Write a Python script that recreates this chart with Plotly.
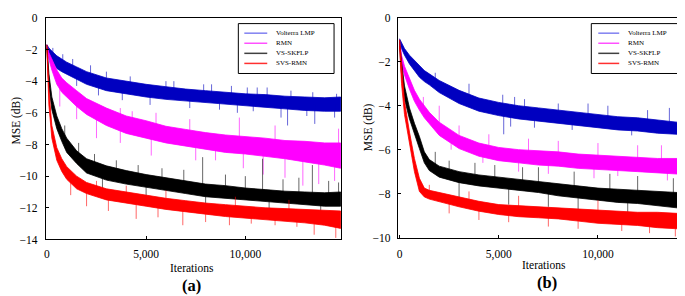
import numpy as np
import plotly.graph_objects as go

W, H = 685, 296
SERIES = ["Volterra LMP", "RMN", "VS-SKFLP", "SVS-RMN"]
COLORS = ["#0000c0", "#ff00ff", "#000000", "#ff0000"]
LEGEND_COLORS = ["#8080f0", "#ff50ff", "#404040", "#ff3030"]

X_TICKS = [0, 5000, 10000]
Y_TICKS_A = [0, -2, -4, -6, -8, -10, -12, -14]
Y_TICKS_B = [0, -2, -4, -6, -8, -10]

# ---------------- panel (a) : band envelopes -------------
ITS_A = [0, 100, 250, 500, 750, 1000, 1500, 2000, 3000, 4000, 5000, 6000, 7000,
         8000, 9000, 10000, 11000, 12000, 13000, 14000, 14800]
A_BLUE_UP = [-1.7, -1.9, -2.1, -2.4, -2.6, -2.8, -3.1, -3.4, -3.8, -4.0, -4.2, -4.35, -4.5,
             -4.6, -4.7, -4.8, -4.85, -4.95, -5.0, -5.05, -5.0]
A_BLUE_LO = [-1.9, -2.3, -2.7, -3.2, -3.4, -3.6, -3.9, -4.2, -4.6, -4.8, -5.0, -5.15, -5.25,
             -5.35, -5.45, -5.55, -5.65, -5.75, -5.85, -5.9, -5.9]
A_MAG_UP = [-1.7, -2.2, -2.6, -3.3, -3.8, -4.1, -4.6, -5.1, -5.7, -6.2, -6.5, -6.85, -7.05,
            -7.25, -7.4, -7.5, -7.6, -7.75, -7.8, -7.9, -7.9]
A_MAG_LO = [-1.9, -2.6, -3.3, -4.2, -4.7, -5.0, -5.6, -6.1, -6.8, -7.3, -7.6, -7.9, -8.1,
            -8.3, -8.5, -8.6, -8.75, -8.9, -9.1, -9.3, -9.5]
A_BLK_UP = [-1.7, -3.5, -5.0, -6.2, -7.0, -7.6, -8.4, -8.9, -9.35, -9.65, -9.9, -10.1, -10.3,
            -10.5, -10.6, -10.75, -10.85, -10.95, -11.0, -11.05, -11.0]
A_BLK_LO = [-1.9, -4.3, -5.8, -7.0, -7.8, -8.5, -9.2, -9.8, -10.25, -10.5, -10.7, -10.9, -11.1,
            -11.3, -11.4, -11.5, -11.6, -11.7, -11.8, -11.9, -11.9]
A_RED_UP = [-1.7, -4.5, -6.8, -8.2, -8.9, -9.4, -10.0, -10.4, -10.8, -11.0, -11.2, -11.4, -11.55,
            -11.7, -11.8, -11.9, -12.0, -12.05, -12.1, -12.15, -12.2]
A_RED_LO = [-1.9, -5.5, -7.6, -9.0, -9.7, -10.2, -10.8, -11.1, -11.5, -11.7, -11.9, -12.1, -12.25,
            -12.4, -12.55, -12.65, -12.75, -12.85, -12.95, -13.1, -13.3]

# spikes: iteration and tip value
A_BLUE_SPK_X = [300, 800, 1300, 2200, 3000, 4200, 6000, 6400, 7900, 8300, 9300, 10100, 10600,
                11100, 12300, 13400, 14600,
                1500, 2600, 3800, 5200, 7200, 8700, 9600, 10400, 11800, 12130, 13100, 13500, 14500]
A_BLUE_SPK_Y = [-1.9, -2.3, -2.6, -3.0, -3.4, -3.7, -4.0, -4.0, -4.2, -4.2, -4.3, -4.4, -4.4,
                -4.4, -4.6, -4.7, -4.8,
                -4.3, -4.9, -5.2, -5.5, -5.7, -5.8, -6.0, -5.9, -6.3, -6.8, -6.2, -6.7, -6.3]
A_MAG_SPK_X = [650, 1500, 2500, 3700, 5260, 7500, 8500, 9900, 10900, 12000, 12900, 13700, 14500,
               3700, 4300, 5500, 7200, 9700, 11500, 14700]
A_MAG_SPK_Y = [-5.6, -6.4, -7.6, -7.9, -8.7, -9.0, -9.0, -9.5, -9.9, -10.1, -10.6, -10.5, -10.3,
               -5.7, -5.9, -6.0, -6.4, -6.3, -6.8, -7.0]
A_BLK_SPK_X = [900, 1600, 2400, 3500, 4600, 5800, 6900, 7850, 9000, 10000, 10870, 11900, 12700,
               13380, 14200, 14700,
               2800, 5000, 8000, 11200, 13800]
A_BLK_SPK_Y = [-6.8, -7.9, -8.6, -9.0, -9.3, -9.5, -9.6, -8.8, -9.9, -10.0, -8.9, -10.2, -10.1,
               -9.3, -10.3, -10.4,
               -11.2, -11.6, -12.0, -12.2, -12.5]
A_RED_SPK_X = [1200, 2000, 3100, 4500, 5600, 6850, 8000, 9200, 10300, 11500, 12600, 13470, 14560,
               2500, 4000, 6000, 9500, 12200]
A_RED_SPK_Y = [-11.2, -11.9, -12.2, -12.7, -12.6, -13.1, -12.9, -13.1, -13.0, -13.1, -13.2, -13.7,
               -13.9,
               -10.3, -10.6, -10.9, -11.3, -11.5]

# ---------------- panel (b) -----------------------------------------------------
ITS_B = [0, 100, 250, 500, 750, 1000, 1250, 1500, 2000, 3000, 4000, 5000, 6000, 7000, 8000,
         9000, 10000, 11000, 12000, 13000, 14000, 14750]
B_BLUE_UP = [-0.95, -1.15, -1.4, -1.7, -1.95, -2.2, -2.4, -2.55, -2.85, -3.3, -3.65, -3.85, -4.0,
             -4.1, -4.2, -4.3, -4.4, -4.5, -4.55, -4.65, -4.75, -4.75]
B_BLUE_LO = [-1.1, -1.4, -1.7, -2.1, -2.4, -2.7, -2.9, -3.05, -3.4, -3.9, -4.25, -4.45, -4.6,
             -4.7, -4.8, -4.9, -5.0, -5.1, -5.15, -5.25, -5.3, -5.35]
B_MAG_UP = [-1.0, -1.7, -2.2, -2.75, -3.3, -3.7, -4.0, -4.3, -4.75, -5.35, -5.7, -5.9, -6.0,
            -6.05, -6.1, -6.2, -6.25, -6.3, -6.35, -6.4, -6.4, -6.45]
B_MAG_LO = [-1.2, -2.1, -2.6, -3.25, -3.8, -4.2, -4.55, -4.85, -5.35, -5.95, -6.3, -6.5, -6.6,
            -6.7, -6.75, -6.85, -6.9, -6.95, -7.0, -7.05, -7.1, -7.15]
B_BLK_UP = [-1.0, -2.0, -3.1, -4.1, -4.8, -5.4, -6.1, -6.45, -6.75, -7.0, -7.15, -7.25, -7.35,
            -7.45, -7.55, -7.65, -7.75, -7.8, -7.85, -7.9, -7.95, -7.9]
B_BLK_LO = [-1.3, -2.6, -3.7, -4.6, -5.3, -5.95, -6.6, -6.95, -7.25, -7.5, -7.65, -7.75, -7.85,
            -7.95, -8.1, -8.2, -8.3, -8.4, -8.45, -8.55, -8.65, -8.7]
B_RED_UP = [-1.0, -2.3, -3.8, -5.2, -6.4, -7.3, -7.75, -7.85, -7.95, -8.15, -8.35, -8.5, -8.55,
            -8.6, -8.65, -8.7, -8.75, -8.8, -8.85, -8.85, -8.9, -8.9]
B_RED_LO = [-1.3, -3.0, -4.4, -5.7, -7.0, -7.9, -8.15, -8.25, -8.35, -8.6, -8.8, -8.95, -9.05,
            -9.1, -9.15, -9.25, -9.35, -9.4, -9.45, -9.55, -9.6, -9.7]

B_BLUE_SPK_X = [1800, 3500, 5200, 5800, 6300, 8000, 9500, 10500, 12500, 13600, 14500,
                5250, 5600, 6800, 8700, 11700, 14200, 14600]
B_BLUE_SPK_Y = [-2.5, -3.0, -3.5, -3.6, -3.7, -3.9, -3.9, -4.0, -4.2, -4.1, -4.2,
                -5.3, -4.95, -5.0, -5.1, -5.35, -5.4, -5.45]
B_MAG_SPK_X = [1200, 2000, 3000, 4500, 6500, 8000, 10000, 12000, 13200, 14600,
               2600, 4200, 6000, 7500, 9800, 11000, 13500, 14500]
B_MAG_SPK_Y = [-3.6, -4.0, -4.9, -5.3, -5.5, -5.6, -5.7, -5.8, -5.8, -5.7,
               -6.0, -6.6, -7.0, -7.1, -7.3, -7.2, -7.4, -7.5]
B_BLK_SPK_X = [1800, 2500, 3800, 4800, 6200, 7000, 8800, 10600, 12000, 13800, 14700,
               3000, 5500, 7500, 9000, 11500]
B_BLK_SPK_Y = [-6.1, -6.5, -6.6, -6.7, -6.8, -6.8, -7.0, -7.1, -7.2, -7.3, -7.5,
               -8.3, -8.5, -8.6, -8.8, -8.9]
B_RED_SPK_X = [2500, 4000, 5500, 7500, 9000, 11200, 12600, 13900, 14400,
               1500, 3500, 6000, 10000]
B_RED_SPK_Y = [-8.9, -9.2, -9.3, -9.5, -9.6, -9.7, -9.8, -9.95, -9.8,
               -7.6, -7.9, -8.1, -8.3]

PANELS = [
    dict(its=ITS_A, xa="x", ya="y",
         bands=[(A_BLUE_UP, A_BLUE_LO), (A_MAG_UP, A_MAG_LO), (A_BLK_UP, A_BLK_LO), (A_RED_UP, A_RED_LO)],
         spikes=[(A_BLUE_SPK_X, A_BLUE_SPK_Y), (A_MAG_SPK_X, A_MAG_SPK_Y),
                 (A_BLK_SPK_X, A_BLK_SPK_Y), (A_RED_SPK_X, A_RED_SPK_Y)]),
    dict(its=ITS_B, xa="x2", ya="y2",
         bands=[(B_BLUE_UP, B_BLUE_LO), (B_MAG_UP, B_MAG_LO), (B_BLK_UP, B_BLK_LO), (B_RED_UP, B_RED_LO)],
         spikes=[(B_BLUE_SPK_X, B_BLUE_SPK_Y), (B_MAG_SPK_X, B_MAG_SPK_Y),
                 (B_BLK_SPK_X, B_BLK_SPK_Y), (B_RED_SPK_X, B_RED_SPK_Y)]),
]

fig = go.Figure()
for p in PANELS:
    its = p["its"]
    for name, col, (up, lo), (sx, sy) in zip(SERIES, COLORS, p["bands"], p["spikes"]):
        fig.add_trace(go.Scatter(
            x=list(its) + list(its)[::-1], y=list(up) + list(lo)[::-1],
            fill="toself", fillcolor=col, mode="lines", line=dict(color=col, width=0.8),
            xaxis=p["xa"], yaxis=p["ya"], showlegend=False, hoverinfo="skip", name=name))
        centre = (np.array(up) + np.array(lo)) / 2
        base = np.interp(sx, its, centre)
        xs, ys = [], []
        for xi, bi, ti in zip(sx, base, sy):
            xs += [xi, xi, None]
            ys += [bi, ti, None]
        fig.add_trace(go.Scatter(
            x=xs, y=ys, mode="lines", line=dict(color=col, width=0.8), opacity=0.75,
            xaxis=p["xa"], yaxis=p["ya"], showlegend=False, hoverinfo="skip", name=name))


def px(x):
    return x / W


def py(y):
    return 1 - y / H


FONT = "Liberation Serif, Times New Roman, serif"
axis_common = dict(showline=True, linecolor="black", linewidth=1, mirror=True,
                   ticks="inside", ticklen=3, tickcolor="black", showgrid=False, zeroline=False,
                   ticklabeloverflow="allow",
                   tickfont=dict(family=FONT, size=11.5, color="black"))

fig.update_layout(
    width=W, height=H, margin=dict(l=0, r=0, t=0, b=0),
    paper_bgcolor="white", plot_bgcolor="white", showlegend=False,
    xaxis=dict(domain=[px(36), px(332)], range=[-50, 14824], tickvals=X_TICKS, tickformat=",d",
               anchor="y", ticklabelstandoff=4, **axis_common),
    yaxis=dict(domain=[py(235), py(4)], range=[-14, 0], tickvals=Y_TICKS_A, anchor="x",
               ticklabelstandoff=5, **axis_common),
    xaxis2=dict(domain=[px(389), px(684)], range=[-85, 14740], tickvals=X_TICKS, tickformat=",d",
                anchor="y2", ticklabelstandoff=6, **axis_common),
    yaxis2=dict(domain=[py(233), py(4)], range=[-10, 0], tickvals=Y_TICKS_B, anchor="x2",
                ticklabelstandoff=4, **axis_common),
)

annotations = []
shapes = []
# axis titles and captions
for cx, cy, txt in [(183, 265, "Iterations"), (536, 262, "Iterations")]:
    annotations.append(dict(x=px(cx), y=py(cy), xref="paper", yref="paper", text=txt, showarrow=False,
                            xanchor="center", yanchor="middle", font=dict(family=FONT, size=11.5, color="black")))
for cx, cy in [(7, 111), (359, 118)]:
    annotations.append(dict(x=px(cx), y=py(cy), xref="paper", yref="paper", text="MSE (dB)", showarrow=False,
                            textangle=-90, xanchor="center", yanchor="middle",
                            font=dict(family=FONT, size=11.5, color="black")))
for cx, cy, txt in [(182, 283, "<b>(a)</b>"), (539, 280, "<b>(b)</b>")]:
    annotations.append(dict(x=px(cx), y=py(cy), xref="paper", yref="paper", text=txt, showarrow=False,
                            xanchor="center", yanchor="middle", font=dict(family=FONT, size=16.5, color="black")))

# legends (one per panel)
LEG_ROWS = [20, 30.5, 41, 51.5]
for (bx0, bx1, lx0, lx1, tx) in [(229, 325, 235, 258, 265), (583, 678, 590, 611, 618)]:
    shapes.append(dict(type="rect", xref="paper", yref="paper", x0=px(bx0), x1=px(bx1), y0=py(62), y1=py(10),
                       line=dict(color="black", width=1), fillcolor="white", layer="above"))
    for name, lc, ry in zip(SERIES, LEGEND_COLORS, LEG_ROWS):
        shapes.append(dict(type="line", xref="paper", yref="paper", x0=px(lx0), x1=px(lx1), y0=py(ry), y1=py(ry),
                           line=dict(color=lc, width=1.5), layer="above"))
        annotations.append(dict(x=px(tx), y=py(ry), xref="paper", yref="paper", text=name, showarrow=False,
                                xanchor="left", yanchor="middle", font=dict(family=FONT, size=7, color="black")))

fig.update_layout(annotations=annotations, shapes=shapes)
fig.write_html("out.html")
